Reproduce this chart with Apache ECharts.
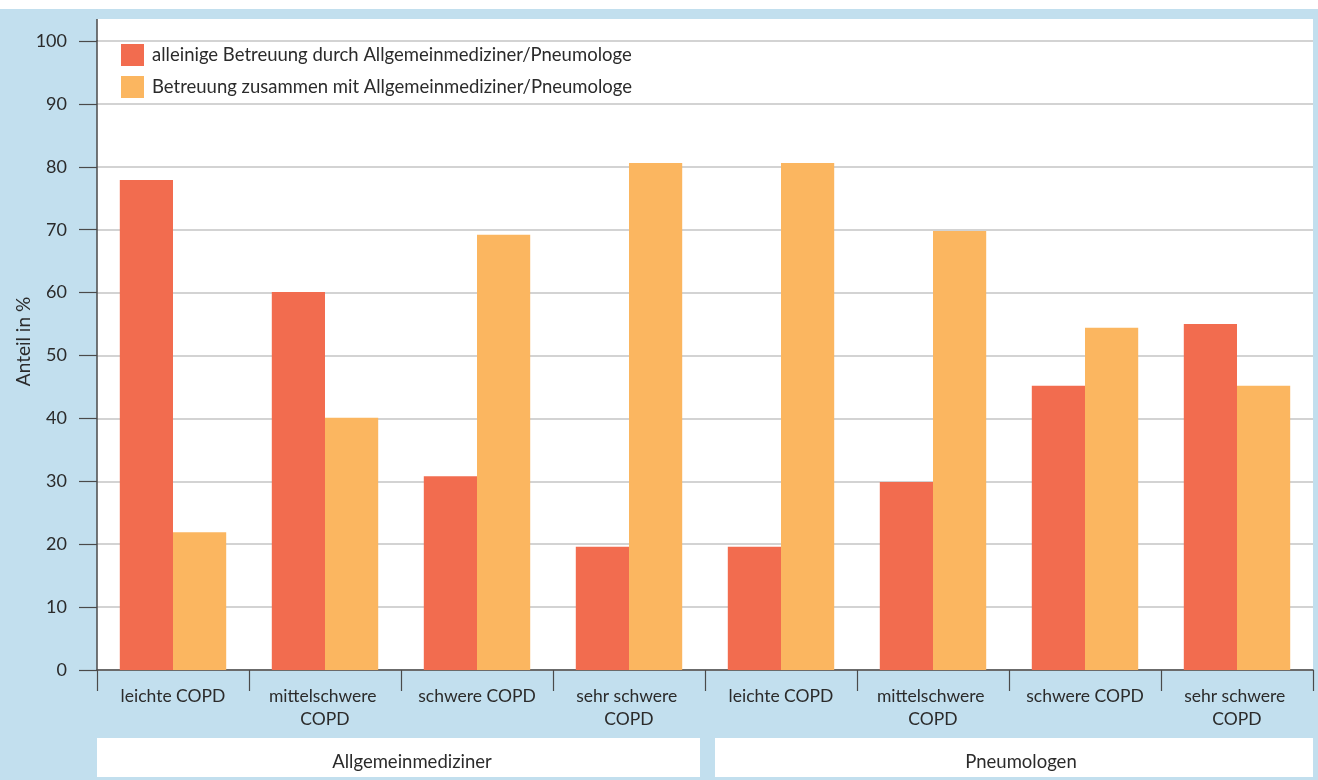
<!DOCTYPE html>
<html>
<head>
<meta charset="utf-8">
<script src="https://cdn.jsdelivr.net/npm/echarts@6/dist/echarts.min.js"></script>
<style>
  html, body { margin: 0; padding: 0; background: #ffffff; }
  #chart { width: 1318px; height: 780px; }
</style>
</head>
<body>
<div id="chart"></div>
<script>
// Betreuung von COPD-Patienten nach Schweregrad, getrennt nach Facharztgruppe
const categories = [
  'leichte COPD', 'mittelschwere COPD', 'schwere COPD', 'sehr schwere COPD',
  'leichte COPD', 'mittelschwere COPD', 'schwere COPD', 'sehr schwere COPD'
];
const groups = ['Allgemeinmediziner', 'Pneumologen'];
const seriesNames = [
  'alleinige Betreuung durch Allgemeinmediziner/Pneumologe',
  'Betreuung zusammen mit Allgemeinmediziner/Pneumologe'
];
const alleinig = [77.9, 60.1, 30.8, 19.6, 19.6, 29.9, 45.2, 55.0];
const zusammen = [21.9, 40.1, 69.2, 80.6, 80.6, 69.8, 54.4, 45.2];
const yTicks = [0, 10, 20, 30, 40, 50, 60, 70, 80, 90, 100];

const FONT = 'Lato';
const TEXT = '#2b2b2b';
const AXIS = '#4a4a4a';
const BLUE = '#c2dfee';
const RED = '#f26c4f';
const ORANGE = '#fbb660';

// frame of the plot
const G = { left: 97, right: 1313, top: 41, bottom: 670, panelTop: 19 };

const chart = echarts.init(document.getElementById('chart'), null, { renderer: 'canvas' });

chart.setOption({
  backgroundColor: '#ffffff',
  animation: false,
  textStyle: { fontFamily: FONT, color: TEXT },
  grid: {
    left: G.left, top: G.top, width: G.right - G.left, height: G.bottom - G.top,
    containLabel: false, outerBoundsMode: 'none'
  },
  legend: {
    orient: 'vertical',
    left: 121,
    top: 44,
    padding: 0,
    itemWidth: 23,
    itemHeight: 22,
    itemGap: 10,
    icon: 'rect',
    data: seriesNames,
    textStyle: { fontFamily: FONT, fontSize: 18.5, color: TEXT, padding: [0, 0, 0, 3] }
  },
  xAxis: {
    type: 'category',
    data: categories,
    axisLine: { show: true, lineStyle: { color: AXIS, width: 1.5 } },
    axisTick: { show: true, length: 21, lineStyle: { color: AXIS, width: 1.2 } },
    axisLabel: {
      interval: 0,
      margin: 15,
      fontFamily: FONT,
      fontSize: 17.5,
      lineHeight: 23,
      color: TEXT,
      width: 128,
      overflow: 'break',
      align: 'center'
    },
    splitLine: { show: false }
  },
  yAxis: {
    type: 'value',
    min: yTicks[0],
    max: yTicks[yTicks.length - 1],
    interval: yTicks[1] - yTicks[0],
    name: 'Anteil in %',
    nameLocation: 'middle',
    nameGap: 64,
    nameRotate: 90,
    nameMoveOverlap: false,
    nameTextStyle: { fontFamily: FONT, fontSize: 19, color: TEXT, padding: [0, 0, 0, 28] },
    axisLine: { show: true, lineStyle: { color: AXIS, width: 1.5 } },
    axisTick: { show: true, length: 18, lineStyle: { color: AXIS, width: 1.2 } },
    axisLabel: { margin: 30, fontFamily: FONT, fontSize: 18, color: TEXT },
    splitLine: { show: true, lineStyle: { color: '#d3d3d3', width: 2 } }
  },
  series: [
    {
      name: seriesNames[0],
      type: 'bar',
      data: alleinig,
      itemStyle: { color: RED },
      barGap: '0%',
      barCategoryGap: '30%'
    },
    {
      name: seriesNames[1],
      type: 'bar',
      data: zusammen,
      itemStyle: { color: ORANGE },
      barGap: '0%',
      barCategoryGap: '30%'
    }
  ],
  graphic: [
    { type: 'rect', silent: true, z: -100, shape: { x: 0, y: 9, width: 1318, height: 771 }, style: { fill: BLUE } },
    { type: 'rect', silent: true, z: -99, shape: { x: G.left, y: G.panelTop, width: G.right - G.left, height: G.bottom - G.panelTop }, style: { fill: '#ffffff' } },
    { type: 'line', silent: true, z: 10, shape: { x1: G.left, y1: G.panelTop, x2: G.left, y2: G.top }, style: { stroke: AXIS, lineWidth: 1.5 } },
    // group boxes below the category labels
    { type: 'rect', silent: true, z: -98, shape: { x: 97, y: 738, width: 603, height: 39 }, style: { fill: '#ffffff' } },
    { type: 'rect', silent: true, z: -98, shape: { x: 715, y: 738, width: 598, height: 39 }, style: { fill: '#ffffff' } },
    { type: 'text', silent: true, z: 10, x: 412, y: 762, style: { text: groups[0], fontFamily: FONT, fontSize: 18.5, fill: TEXT, align: 'center', verticalAlign: 'middle' } },
    { type: 'text', silent: true, z: 10, x: 1021, y: 762, style: { text: groups[1], fontFamily: FONT, fontSize: 18.5, fill: TEXT, align: 'center', verticalAlign: 'middle' } }
  ]
});
</script>
</body>
</html>
